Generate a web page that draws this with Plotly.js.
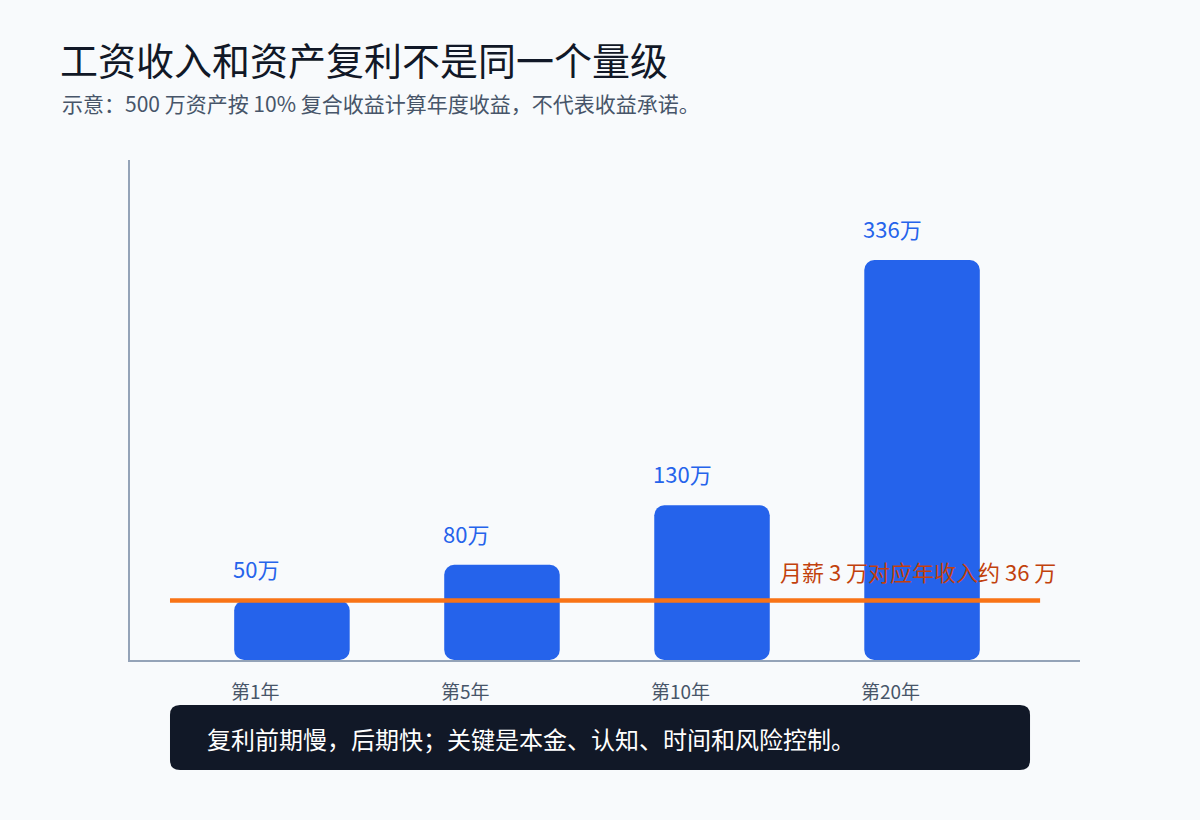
<!DOCTYPE html>
<html>
<head>
<meta charset="utf-8">
<script src="https://cdn.plot.ly/plotly-3.0.1.min.js"></script>
<style>
  html, body { margin: 0; padding: 0; background: #f8fafc; }
  #chart { width: 1200px; height: 820px; }
</style>
</head>
<body>
<div id="chart"></div>
<script>
// ---- data ----
const categories = ["第1年", "第5年", "第10年", "第20年"];
const values = [50, 80, 130, 336];           // 万
const valueLabels = ["50万", "80万", "130万", "336万"];
const incomeLineValue = 50;                  // position of the orange reference line as drawn
const incomeLabel = "月薪 3 万对应年收入约 36 万";
const titleText = "工资收入和资产复利不是同一个量级";
const subtitleText = "示意：500 万资产按 10% 复合收益计算年度收益，不代表收益承诺。";
const footerText = "复利前期慢，后期快；关键是本金、认知、时间和风险控制。";

// ---- styling ----
const FONT = '"Noto Sans CJK SC", "Noto Sans", sans-serif';
const BLUE = "#2563eb";
const ORANGE = "#f97316";
const ORANGE_TEXT = "#c2410c";
const AXIS = "#94a3b8";
const BG = "#f8fafc";
const BAR_W = 0.55;

const idx = categories.map((_, i) => i);

const bars = {
  type: "bar", x: idx, y: values, base: values.map(() => 0),
  width: BAR_W, marker: { color: BLUE, cornerradius: 10, line: { width: 0 } },
  hoverinfo: "skip", showlegend: false
};

const annotations = [];
idx.forEach(i => {
  annotations.push({
    x: i - BAR_W / 2, y: values[i], xref: "x", yref: "y",
    text: valueLabels[i], showarrow: false, xanchor: "left", yanchor: "middle",
    xshift: -3, yshift: 32, font: { family: FONT, size: 22, color: BLUE }
  });
  annotations.push({
    x: i - BAR_W / 2, y: 0, xref: "x", yref: "paper",
    text: categories[i], showarrow: false, xanchor: "left", yanchor: "middle",
    xshift: -5, yshift: -30, font: { family: FONT, size: 19, color: "#475569" }
  });
});
annotations.push({
  x: 0.977, y: incomeLineValue, xref: "paper", yref: "y",
  text: incomeLabel, showarrow: false, xanchor: "right", yanchor: "middle",
  yshift: 29, font: { family: FONT, size: 22, color: ORANGE_TEXT }
});
annotations.push({
  x: -0.0737, y: 1.114, xref: "paper", yref: "paper",
  text: subtitleText, showarrow: false, xanchor: "left", yanchor: "middle",
  font: { family: FONT, size: 21, color: "#475569" }
});
annotations.push({
  x: 0.0789, y: -0.156, xref: "paper", yref: "paper",
  text: footerText, showarrow: false, xanchor: "left", yanchor: "middle",
  font: { family: FONT, size: 24, color: "#ffffff" }
});

// rounded footer box in paper coords
function roundedRect(x0, y0, x1, y1, rx, ry) {
  return `M ${x0 + rx},${y0} L ${x1 - rx},${y0} Q ${x1},${y0} ${x1},${y0 + ry} ` +
         `L ${x1},${y1 - ry} Q ${x1},${y1} ${x1 - rx},${y1} L ${x0 + rx},${y1} ` +
         `Q ${x0},${y1} ${x0},${y1 - ry} L ${x0},${y0 + ry} Q ${x0},${y0} ${x0 + rx},${y0} Z`;
}

const shapes = [
  {
    type: "path", xref: "paper", yref: "paper", layer: "below",
    path: roundedRect(0.0421, -0.22, 0.9474, -0.09, 10 / 950, 10 / 500),
    fillcolor: "#111827", line: { width: 0 }
  },
  {
    type: "line", xref: "paper", yref: "y", x0: 0.0421, x1: 0.958,
    y0: incomeLineValue, y1: incomeLineValue, layer: "above",
    line: { color: ORANGE, width: 4.5 }
  }
];

const layout = {
  width: 1200, height: 820,
  paper_bgcolor: BG, plot_bgcolor: BG,
  margin: { l: 130, r: 120, t: 160, b: 160 },
  font: { family: FONT },
  title: {
    text: titleText, x: 0.05, xanchor: "left", xref: "container",
    y: 1 - 62 / 820, yanchor: "middle", yref: "container",
    font: { family: FONT, size: 38, color: "#111827" }
  },
  xaxis: {
    range: [-0.771, 3.752], showgrid: false, zeroline: false,
    showticklabels: false, ticks: "", showline: true, linecolor: AXIS, linewidth: 2, fixedrange: true
  },
  yaxis: {
    range: [0, 420], showgrid: false, zeroline: false,
    showticklabels: false, ticks: "", showline: true, linecolor: AXIS, linewidth: 2, fixedrange: true
  },
  annotations: annotations,
  shapes: shapes,
  showlegend: false
};

Plotly.newPlot("chart", [bars], layout, { displayModeBar: false, staticPlot: true });
</script>
</body>
</html>
